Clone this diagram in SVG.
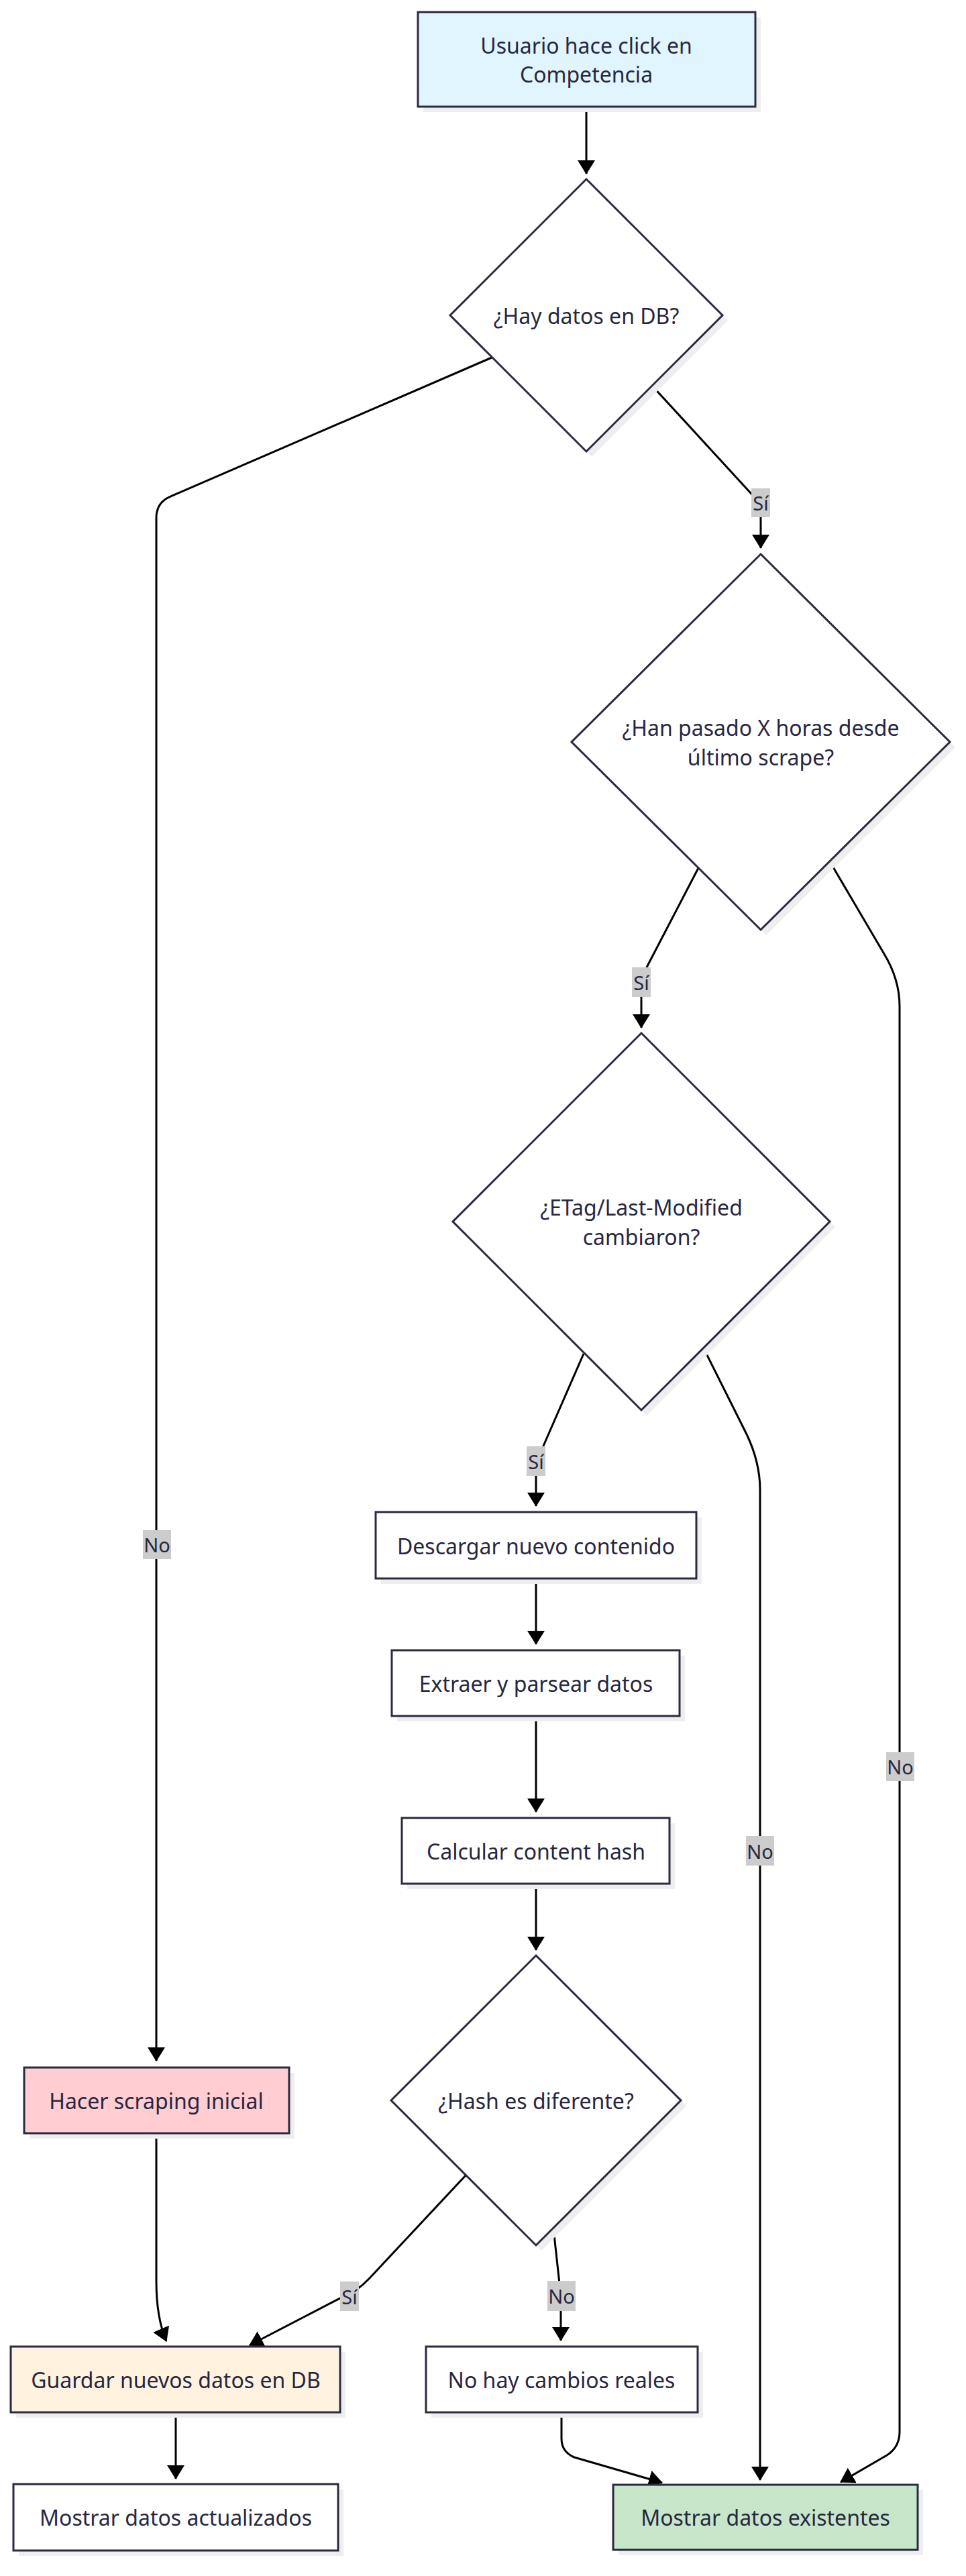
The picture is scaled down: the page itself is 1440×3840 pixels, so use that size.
<svg xmlns="http://www.w3.org/2000/svg" width="1440" height="3840" viewBox="0 0 1440 3840">
<style>
.bg{fill:#ffffff}
.sh{fill:#eeeeee;stroke:none}
.nd{fill:#ffffff;stroke:#2a2a40;stroke-width:3}
.t{font-family:"Noto Sans","Liberation Sans",sans-serif;font-size:32px;fill:#27273f;text-anchor:middle;dominant-baseline:central}
.e{fill:none;stroke:#000000;stroke-width:3;marker-end:url(#ah)}
.lb{fill:#cccccc}
.lt{font-family:"Noto Sans","Liberation Sans",sans-serif;font-size:29px;fill:#27273f;text-anchor:middle;dominant-baseline:central}
</style>
<defs>
<marker id="ah" viewBox="0 0 21 26" refX="20" refY="13" markerWidth="21" markerHeight="26" markerUnits="userSpaceOnUse" orient="auto">
<path d="M0,0 L21,13 L0,26 z" fill="#000000"/>
</marker>
</defs>
<rect class="bg" x="0" y="0" width="1440" height="3840"/>

<g id="connectors">
<path class="e" d="M874,159 L874,259"/>
<path class="e" d="M733,533 L252,741 Q233,750 233,772 L233,3072"/>
<path class="e" d="M973,576 L1119,735 Q1134,751 1134,772 L1134,817"/>
<path class="e" d="M1041,1294 L965,1440 Q956,1458 956,1480 L956,1532"/>
<path class="e" d="M1238,1286 L1318,1422 Q1341,1460 1341,1500 L1341,3625 Q1341,3648 1322,3660 L1253,3700"/>
<path class="e" d="M870,2018 L808,2160 Q799,2180 799,2200 L799,2245"/>
<path class="e" d="M1049,2010 L1113,2138 Q1133,2180 1133,2221 L1133,3697"/>
<path class="e" d="M799,2353 L799,2451"/>
<path class="e" d="M799,2558 L799,2701"/>
<path class="e" d="M799,2809 L799,2907"/>
<path class="e" d="M694,3243 L550,3397 Q530,3418 505,3427 L372,3496"/>
<path class="e" d="M825,3322 L836,3422 L836,3489"/>
<path class="e" d="M233,3181 L233,3400 Q233,3455 248,3490"/>
<path class="e" d="M262,3596 L262,3695"/>
<path class="e" d="M837,3596 L837,3635 Q837,3655 856,3663 L987,3701"/>
<g id="edge-labels">
<rect class="lb" x="213" y="2281" width="42" height="43"/><text class="lt" x="234" y="2302">No</text>
<rect class="lb" x="1120" y="728" width="28" height="43"/><text class="lt" x="1134" y="749">Sí</text>
<rect class="lb" x="942" y="1442" width="28" height="44"/><text class="lt" x="956" y="1464">Sí</text>
<rect class="lb" x="1321" y="2612" width="42" height="43"/><text class="lt" x="1342" y="2633">No</text>
<rect class="lb" x="785" y="2156" width="28" height="44"/><text class="lt" x="799" y="2178">Sí</text>
<rect class="lb" x="1112" y="2737" width="42" height="44"/><text class="lt" x="1133" y="2759">No</text>
<rect class="lb" x="507" y="3401" width="28" height="44"/><text class="lt" x="521" y="3423">Sí</text>
<rect class="lb" x="816" y="3400" width="42" height="45"/><text class="lt" x="837" y="3422">No</text>
</g>
</g>

<g id="start">
<rect class="sh" x="631" y="26" width="503" height="141"/>
<rect class="nd" style="fill:#e1f5fe" x="623" y="18" width="503" height="141"/>
<text class="t" x="874" y="67">Usuario hace click en</text>
<text class="t" x="874" y="110">Competencia</text>
</g>

<g id="d1">
<polygon class="sh" points="882,275 1085,478 882,681 679,478"/>
<polygon class="nd" points="874,267 1077,470 874,673 671,470"/>
<text class="t" x="874" y="470">¿Hay datos en DB?</text>
</g>

<g id="d2">
<polygon class="sh" points="1142,834 1424,1114 1142,1394 860,1114"/>
<polygon class="nd" points="1134,826 1416,1106 1134,1386 852,1106"/>
<text class="t" x="1134" y="1084">¿Han pasado X horas desde</text>
<text class="t" x="1134" y="1128">último scrape?</text>
</g>

<g id="d3">
<polygon class="sh" points="964,1548 1245,1829 964,2110 683,1829"/>
<polygon class="nd" points="956,1540 1237,1821 956,2102 675,1821"/>
<text class="t" x="956" y="1799">¿ETag/Last-Modified</text>
<text class="t" x="956" y="1843">cambiaron?</text>
</g>

<g id="descargar">
<rect class="sh" x="568" y="2262" width="478" height="99"/>
<rect class="nd" x="560" y="2254" width="478" height="99"/>
<text class="t" x="799" y="2304">Descargar nuevo contenido</text>
</g>

<g id="extraer">
<rect class="sh" x="592" y="2468" width="429" height="98"/>
<rect class="nd" x="584" y="2460" width="429" height="98"/>
<text class="t" x="799" y="2509">Extraer y parsear datos</text>
</g>

<g id="calcular">
<rect class="sh" x="607" y="2718" width="399" height="98"/>
<rect class="nd" x="599" y="2710" width="399" height="98"/>
<text class="t" x="799" y="2759">Calcular content hash</text>
</g>

<g id="d4">
<polygon class="sh" points="807,2923 1023,3139 807,3355 591,3139"/>
<polygon class="nd" points="799,2915 1015,3131 799,3347 583,3131"/>
<text class="t" x="799" y="3131">¿Hash es diferente?</text>
</g>

<g id="hacer">
<rect class="sh" x="44" y="3090" width="395" height="98"/>
<rect class="nd" style="fill:#ffcdd2" x="36" y="3082" width="395" height="98"/>
<text class="t" x="233" y="3131">Hacer scraping inicial</text>
</g>

<g id="guardar">
<rect class="sh" x="24" y="3506" width="491" height="98"/>
<rect class="nd" style="fill:#fff3e0" x="16" y="3498" width="491" height="98"/>
<text class="t" x="262" y="3547">Guardar nuevos datos en DB</text>
</g>

<g id="mostrar-act">
<rect class="sh" x="28" y="3711" width="484" height="99"/>
<rect class="nd" x="20" y="3703" width="484" height="99"/>
<text class="t" x="262" y="3752">Mostrar datos actualizados</text>
</g>

<g id="nohay">
<rect class="sh" x="643" y="3506" width="405" height="98"/>
<rect class="nd" x="635" y="3498" width="405" height="98"/>
<text class="t" x="837" y="3547">No hay cambios reales</text>
</g>

<g id="mostrar-ex">
<rect class="sh" x="922" y="3712" width="454" height="97"/>
<rect class="nd" style="fill:#c8e6c9" x="914" y="3704" width="454" height="97"/>
<text class="t" x="1141" y="3752">Mostrar datos existentes</text>
</g>
</svg>
